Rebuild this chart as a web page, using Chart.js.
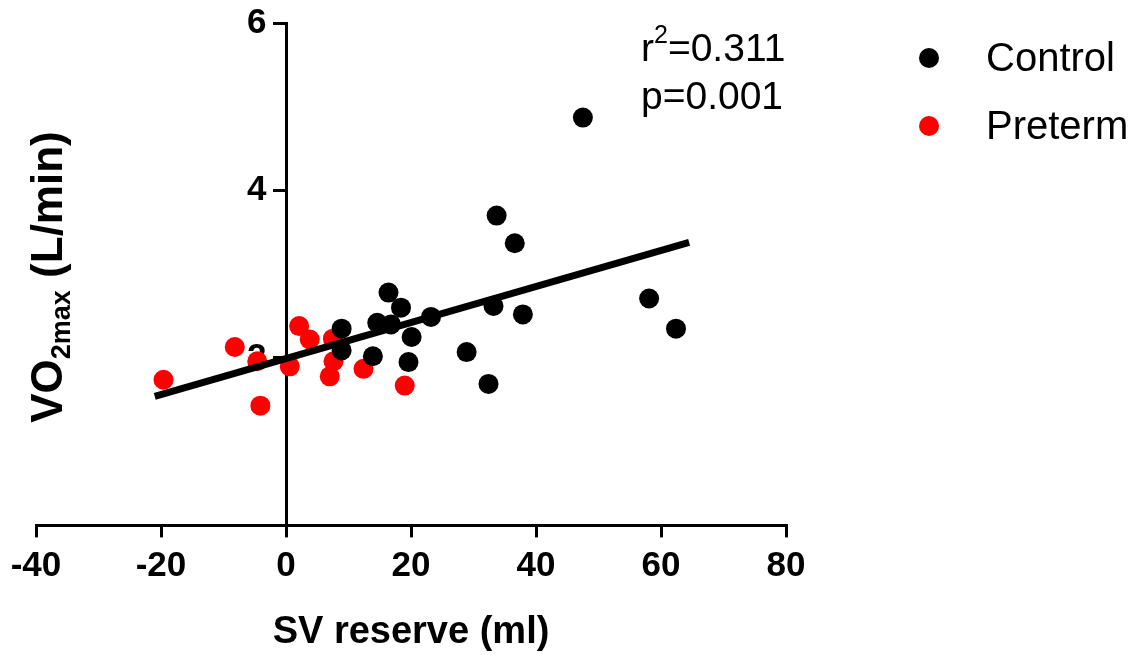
<!DOCTYPE html>
<html>
<head>
<meta charset="utf-8">
<script src="https://cdn.jsdelivr.net/npm/chart.js@4"></script>
<style>
  html, body { margin: 0; padding: 0; background: #fff; }
  #wrap { width: 1136px; height: 655px; position: relative; }
</style>
</head>
<body>
<div id="wrap"><canvas id="myChart"></canvas></div>
<script>
// values
const controlX = [47.5, 33.7, 36.6, 16.4, 18.4, 58.1, 33.2, 37.9, 23.2, 14.6, 16.8, 62.4, 8.9, 20.1, 8.9, 13.9, 19.6, 28.9, 32.4];
const controlY = [4.87, 3.70, 3.37, 2.78, 2.60, 2.71, 2.62, 2.52, 2.49, 2.42, 2.40, 2.35, 2.35, 2.25, 2.09, 2.02, 1.95, 2.07, 1.69];
const pretermX = [-19.6, -8.2, -4.6, -4.1, 0.6, 2.1, 3.8, 7.5, 7.6, 7.0, 12.4, 19.0];
const pretermY = [1.74, 2.13, 1.96, 1.43, 1.90, 2.38, 2.22, 2.23, 1.96, 1.78, 1.87, 1.67];
const fitX = [-21, 64.5];
const fitY = [1.54, 3.38];
const xTicks = [-40, -20, 0, 20, 40, 60, 80];
const yTicks = [2, 4, 6];
const seriesNames = ['Control', 'Preterm'];
const seriesColors = ['#000000', '#ff0000'];
const statLines = ['0.311', '0.001'];

const FONT = '"Liberation Sans", Arial, Helvetica, sans-serif';
const toPoints = (xs, ys) => xs.map((x, i) => ({x: x, y: ys[i]}));

// extra text: y title with subscript, r2 / p text, legend
const extras = {
  id: 'extras',
  afterDraw(chart) {
    const c = chart.ctx;
    c.save();
    c.fillStyle = '#000';

    // y axis title, rotated
    c.save();
    c.translate(62, 277);
    c.rotate(-Math.PI / 2);
    const big = 'bold 44px ' + FONT;
    const small = 'bold 27px ' + FONT;
    c.font = big;
    const w1 = c.measureText('VO').width;
    const w3 = c.measureText(' (L/min)').width;
    c.font = small;
    const w2 = c.measureText('2max').width;
    let x0 = -(w1 + w2 + w3) / 2;
    c.textBaseline = 'alphabetic';
    c.textAlign = 'left';
    c.font = big;
    c.fillText('VO', x0, 0);
    c.font = small;
    c.fillText('2max', x0 + w1, 8);
    c.font = big;
    c.fillText(' (L/min)', x0 + w1 + w2, 0);
    c.restore();

    // r2 and p
    c.textAlign = 'left';
    c.textBaseline = 'alphabetic';
    c.font = '39px ' + FONT;
    let x = 641;
    c.fillText('r', x, 61);
    x += c.measureText('r').width;
    c.font = '25px ' + FONT;
    c.fillText('2', x, 43);
    x += c.measureText('2').width;
    c.font = '39px ' + FONT;
    c.fillText('=' + statLines[0], x, 61);
    c.fillText('p=' + statLines[1], 641, 109);

    // legend
    const rowsY = [58, 126];
    c.font = '40px ' + FONT;
    c.textBaseline = 'middle';
    seriesNames.forEach((name, i) => {
      c.fillStyle = seriesColors[i];
      c.beginPath();
      c.arc(929, rowsY[i], 10, 0, Math.PI * 2);
      c.fill();
      c.fillStyle = '#000';
      c.fillText(name, 986, rowsY[i] + 2);
    });
    c.restore();
  }
};

const ctx = document.getElementById('myChart').getContext('2d');
const myChart = new Chart(ctx, {
  type: 'scatter',
  data: {
    datasets: [{
      type: 'line',
      label: 'fit',
      data: toPoints(fitX, fitY),
      borderColor: '#000',
      borderWidth: 7,
      pointRadius: 0,
      fill: false,
      order: 0
    }, {
      label: seriesNames[0],
      data: toPoints(controlX, controlY),
      backgroundColor: seriesColors[0],
      borderWidth: 0,
      pointRadius: 10,
      order: 1
    }, {
      label: seriesNames[1],
      data: toPoints(pretermX, pretermY),
      backgroundColor: seriesColors[1],
      borderWidth: 0,
      pointRadius: 10,
      order: 2
    }]
  },
  options: {
    responsive: true,
    maintainAspectRatio: false,
    animation: false,
    layout: { padding: { left: 36, right: 350, top: 23, bottom: 0 } },
    plugins: {
      legend: { display: false },
      tooltip: { enabled: false }
    },
    scales: {
      x: {
        type: 'linear',
        position: 'bottom',
        min: -40,
        max: 80,
        afterBuildTicks: (scale) => { scale.ticks = xTicks.map(v => ({value: v})); },
        grid: { drawOnChartArea: false, drawTicks: true, tickLength: 12, color: '#000', lineWidth: 3 },
        border: { display: true, color: '#000', width: 3 },
        ticks: { color: '#000', padding: 8, font: { family: FONT, size: 35, weight: 'bold' } },
        title: {
          display: true,
          text: 'SV reserve (ml)',
          color: '#000',
          padding: { top: 14, bottom: 0 },
          font: { family: FONT, size: 38, weight: 'bold' }
        }
      },
      y: {
        type: 'linear',
        position: { x: 0 },
        min: 0,
        max: 6,
        afterBuildTicks: (scale) => { scale.ticks = yTicks.map(v => ({value: v})); },
        grid: { drawOnChartArea: false, drawTicks: true, tickLength: 12, color: '#000', lineWidth: 3 },
        border: { display: true, color: '#000', width: 3 },
        // labels sit right on the crossing axis, trailing spaces push them past the tick marks
        ticks: { color: '#000', padding: 0, callback: (v) => v + '  ', font: { family: FONT, size: 35, weight: 'bold' } }
      }
    }
  },
  plugins: [extras]
});
</script>
</body>
</html>
